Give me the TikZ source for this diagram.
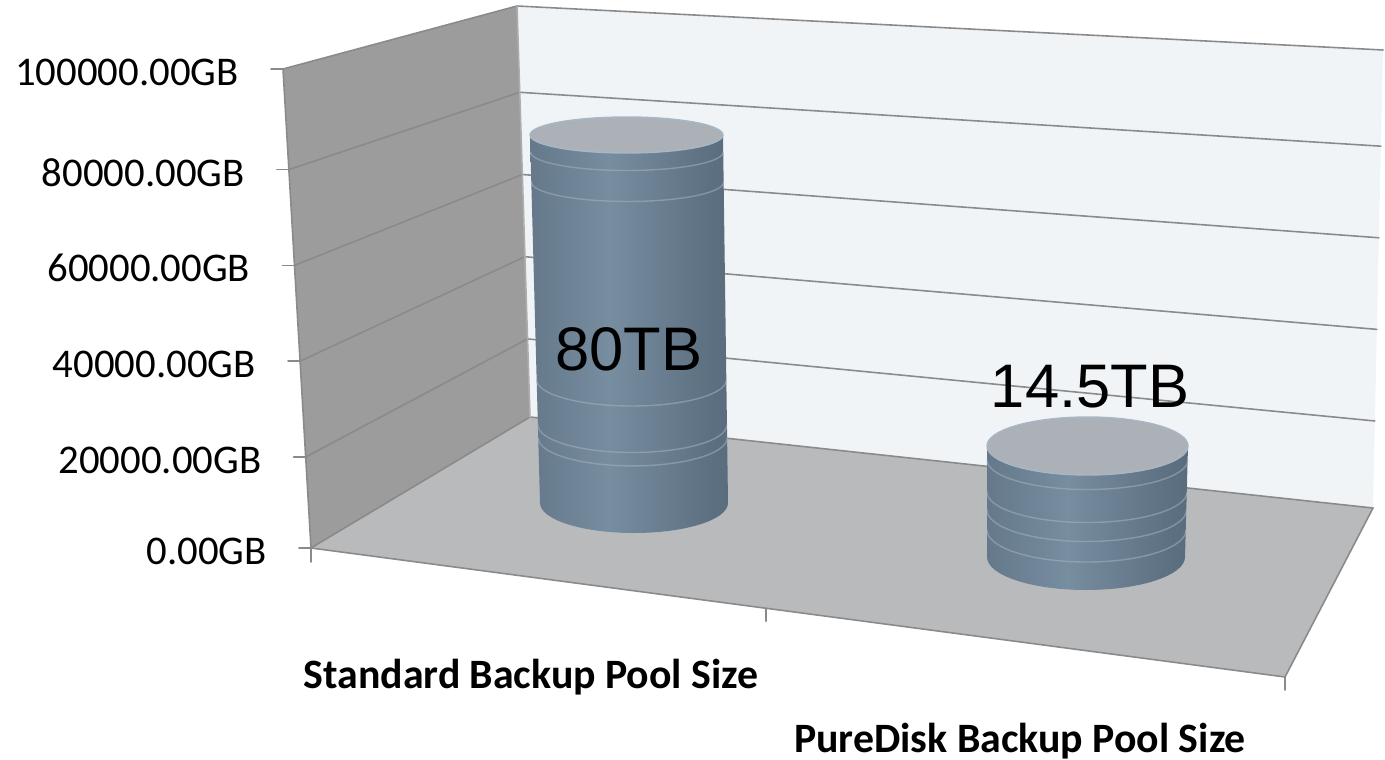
\documentclass[tikz,border=0pt]{standalone}
\usepackage{fontspec}
\setmainfont{Carlito}
\newfontfamily\arialfont{Liberation Sans}
\usepackage{tikz}
\usetikzlibrary{calc,positioning}
\definecolor{sidewall}{HTML}{9C9C9C}
\definecolor{floorgrey}{HTML}{B9BABC}
\definecolor{backwall}{HTML}{F1F4F7}
\definecolor{gridgrey}{HTML}{8A8A8A}
\definecolor{drumdark}{HTML}{3C4B58}
\definecolor{drumlight}{HTML}{778DA0}
\definecolor{drumedge}{HTML}{526475}
\definecolor{drumtop}{HTML}{ABB1B7}
\definecolor{drumband}{HTML}{A8B7C5}
\pgfdeclarehorizontalshading{drumshade}{100bp}{%
  color(0bp)=(drumedge); color(25bp)=(drumedge!50!drumlight);
  color(45bp)=(drumlight); color(70bp)=(drumedge!70!drumlight);
  color(88bp)=(drumedge); color(100bp)=(drumdark)}
\tikzset{
  GridLine/.style={draw=gridgrey, line width=0.9pt},
  AxisTick/.style={draw=gridgrey, line width=1pt},
  DrumBody/.style={shading=drumshade, shading angle=0},
  DrumTop/.style={fill=drumtop, draw=drumband, line width=0.8pt},
  DrumBand/.style={draw=drumband, line width=0.8pt, opacity=0.5},
  ValueLabel/.style={font=\arialfont\fontsize{35}{42}\selectfont, inner sep=0pt, anchor=base},
  TickLabel/.style={font=\fontsize{23.2}{28}\selectfont, inner sep=0pt, anchor=east},
  CatLabel/.style={font=\bfseries\fontsize{23.8}{28}\selectfont, inner sep=0pt, anchor=base}
}
\newcommand{\Drum}[8]{%
  % #1,#2 = left/right x at the top, #3 = top centre y, #4 = top y radius
  % #5,#6 = left/right x at the bottom, #7 = bottom centre y, #8 = bottom y radius
  \pgfmathsetmacro{\rxtop}{(#2-#1)/2}%
  \pgfmathsetmacro{\rxbot}{(#6-#5)/2}%
  \shade[DrumBody] (#1,#3) -- (#5,#7)
    arc[start angle=180, end angle=0, x radius=\rxbot, y radius=#8] -- (#2,#3) -- cycle;
  \draw[DrumTop] ({(#1+#2)/2},#3) ellipse[x radius=\rxtop, y radius=#4];
}

\begin{document}
\begin{tikzpicture}[x=0.02cm, y=-0.02cm, line cap=round, line join=round]
  \useasboundingbox (0,0) rectangle (1385,760);

  % corners of the box
  \coordinate (FLT) at (283,69);
  \coordinate (FLB) at (311,548);
  \coordinate (BLT) at (517,6);
  \coordinate (BLB) at (530,417);
  \coordinate (BRT) at (1383,50);
  \coordinate (BRB) at (1373,508);
  \coordinate (FRB) at (1285,677);

  \fill[backwall] (BLT) -- (BRT) -- (BRB) -- (BLB) -- cycle;
  \fill[sidewall] (FLT) -- (BLT) -- (BLB) -- (FLB) -- cycle;
  \fill[floorgrey] (FLB) -- (BLB) -- (BRB) -- (FRB) -- cycle;

  \foreach \t/\lab [count=\i] in {0/0.00GB, 0.19/20000.00GB, 0.39/40000.00GB,
      0.59/60000.00GB, 0.79/80000.00GB, 1/100000.00GB} {
    \coordinate (f\i) at ($(FLB)!\t!(FLT)$);
    \coordinate (b\i) at ($(BLB)!\t!(BLT)$);
    \coordinate (r\i) at ($(BRB)!\t!(BRT)$);
    \draw[GridLine] (f\i) -- (b\i) -- (r\i);
    \draw[AxisTick] (f\i) -- ++(-12,0);
    \node[TickLabel] (lab\i) at ($(f\i)+(-44,3)$) {\lab};
  }

  \draw[GridLine] (FLT) -- (FLB) -- (FRB) -- (BRB);
  \draw[GridLine, draw=gridgrey!70] (BLT) -- (BLB);

  % category ticks
  \coordinate (mid) at ($(FLB)!0.467!(FRB)$);
  \draw[AxisTick] (FLB) -- ++(0,14);
  \draw[AxisTick] (mid) -- ++(0,13);
  \draw[AxisTick] (FRB) -- ++(0,13);

  % the two drums
  \Drum{530}{723}{135}{18}{540}{728}{503}{30}
  \foreach \y/\xl/\xr/\ry in {152/530.5/723.2/18.5, 182/531.3/723.6/19.5,
      380/536.7/726.3/26, 425/537.9/726.9/27.5, 438/538.2/727.1/27.9}
    \draw[DrumBand] (\xl,\y) arc[start angle=180, end angle=0,
      x radius={(\xr-\xl)/2}, y radius=\ry];

  \Drum{987}{1188}{446}{29}{987}{1185}{557}{33}
  \foreach \y/\xl/\xr/\ry in {460/987/1187.8/29.5, 492/987/1187/30.5,
      510/987/1186.5/31.5, 530/987/1186/32}
    \draw[DrumBand] (\xl,\y) arc[start angle=180, end angle=0,
      x radius={(\xr-\xl)/2}, y radius=\ry];

  \node[ValueLabel] (big) at (629,370) {80TB};
  \node[ValueLabel] (small) at (1090,407) {14.5TB};

  \node[CatLabel] (std) at (531,688) {Standard Backup Pool Size};
  \node[CatLabel] (pd) at (1020,752) {PureDisk Backup Pool Size};
\end{tikzpicture}
\end{document}
